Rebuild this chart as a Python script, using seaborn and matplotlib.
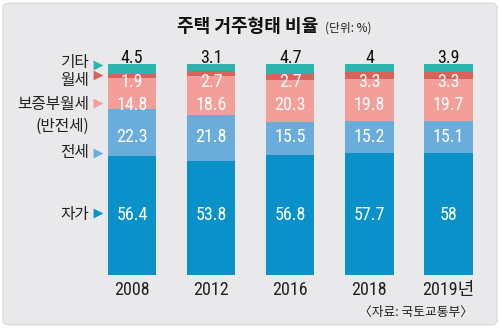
import matplotlib
matplotlib.use("Agg")
import matplotlib.pyplot as plt
from matplotlib.patches import FancyBboxPatch
from matplotlib import font_manager as fm
import seaborn as sns
import pandas as pd
import numpy as np

years = ["2008", "2012", "2016", "2018", "2019년"]
own = [56.4, 53.8, 56.8, 57.7, 58]          # 자가
jeonse = [22.3, 21.8, 15.5, 15.2, 15.1]     # 전세
semi = [14.8, 18.6, 20.3, 19.8, 19.7]       # 보증부월세(반전세)
monthly = [1.9, 2.7, 2.7, 3.3, 3.3]         # 월세
other = [4.5, 3.1, 4.7, 4, 3.9]             # 기타
other_lbl = ["4.5", "3.1", "4.7", "4", "3.9"]

series = [("자가", own), ("전세", jeonse), ("보증부월세", semi), ("월세", monthly), ("기타", other)]
colors = {"자가": "#0b91c9", "전세": "#6badda", "보증부월세": "#f39e98", "월세": "#d9625a", "기타": "#2bb5ad"}

sns.set_style("white")
plt.rcParams['font.family'] = ['Noto Sans CJK KR', 'DejaVu Sans']

names = {f.name for f in fm.fontManager.ttflist}
NUM_FAMILY = None
for cand in ["Roboto Condensed", "Archivo Narrow", "Asap Condensed", "Liberation Sans Narrow"]:
    if cand in names:
        NUM_FAMILY = cand
        break
if NUM_FAMILY:
    NUM = dict(family=[NUM_FAMILY, 'Noto Sans CJK KR'])
else:
    NUM = dict(family=['DejaVu Sans', 'Noto Sans CJK KR'])

W, H = 500, 328
fig = plt.figure(figsize=(5, 3.28), dpi=100, facecolor="white")
panel = FancyBboxPatch((3 / W, 3 / H), 494 / W, 322 / H, boxstyle="round,pad=0,rounding_size=0.015",
                       transform=fig.transFigure, facecolor="#e9e9eb", edgecolor="#d6d6d8", lw=0.8,
                       zorder=-10)
fig.patches.append(panel)

ppu = (448.5 - 132) / 4
left_px = 132 - 0.5 * ppu
ax_w = 5 * ppu
ymax = 100
ax = fig.add_axes([left_px / W, (H - 275) / H, ax_w / W, 211 / H])
ax.set_facecolor("none")
ax.set_zorder(5)

df = pd.DataFrame({"year": years})
cum = np.zeros(len(years))
cums = []
for name, vals in series:
    cum = cum + np.array(vals)
    cums.append((name, cum.copy()))
for name, c in reversed(cums):
    sns.barplot(x=df["year"], y=c, color=colors[name], width=0.61, ax=ax,
                saturation=1, linewidth=0, order=years)

ax.set_xlim(-0.5, 4.5)
ax.set_ylim(0, ymax)
for s in ax.spines.values():
    s.set_visible(False)
ax.set_yticks([])
ax.set_xlabel("")
ax.set_ylabel("")
ax.tick_params(axis="x", length=0, pad=4)
ax.set_xticks(range(5))
ax.set_xticklabels(years, fontsize=13, color="#222222", **NUM)

def ypx(p):
    return (275 - p) / 211 * 100

rows = [(own, ypx(215), "white"), (jeonse, ypx(137), "white"), (semi, ypx(105), "white"),
        (monthly, ypx(82), "white")]
for vals, yy, col in rows:
    for i, v in enumerate(vals):
        ax.text(i, yy, f"{v:g}", ha="center", va="center", fontsize=13, color=col, **NUM)
for i, t in enumerate(other_lbl):
    ax.text(i, ypx(58), t, ha="center", va="center", fontsize=13, color="#111111",
            clip_on=False, **NUM)

ax_x = (98 - 132) / ppu
for name, p in [("기타", 65), ("월세", 75), ("보증부월세", 103), ("전세", 153), ("자가", 213)]:
    ax.scatter([ax_x], [ypx(p)], marker=">", s=50, color=colors[name], clip_on=False, zorder=5, linewidths=0)

for t, p in [("기타", 62), ("월세", 80), ("보증부월세", 104), ("(반전세)", 126), ("전세", 152), ("자가", 214)]:
    fig.text(89 / W, 1 - p / H, t, ha="right", va="center", fontsize=11.3, color="#222222")

fig.text(318 / W, 1 - 26 / H, "주택 거주형태 비율", ha="right", va="center", fontsize=13, fontweight="bold", color="#111111")
fig.text(325 / W, 1 - 28 / H, "(단위: %)", ha="left", va="center", fontsize=8.5, color="#222222")
fig.text(473 / W, 1 - 312 / H, "〈자료: 국토교통부〉", ha="right", va="center", fontsize=9.2, color="#222222")

fig.savefig("out.png", dpi=100, facecolor="white")
